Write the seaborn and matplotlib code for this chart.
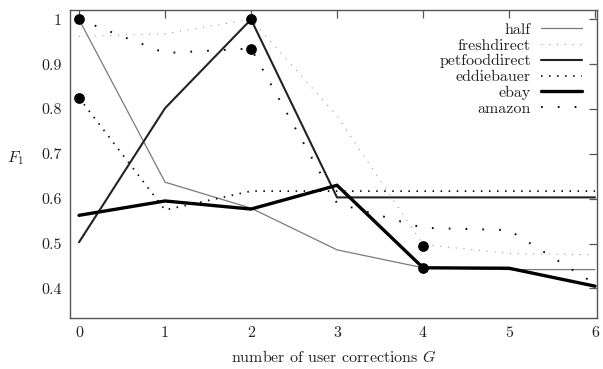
import matplotlib
matplotlib.use("Agg")
import matplotlib.pyplot as plt
import seaborn as sns
import pandas as pd

# ---- data ----
G = [0, 1, 2, 3, 4, 5, 6]
half = [1.0, 0.637, 0.579, 0.486, 0.446, 0.442, 0.442]
freshdirect = [0.962, 0.968, 1.0, 0.785, 0.498, 0.478, 0.475]
petfooddirect = [0.503, 0.802, 1.0, 0.603, 0.603, 0.603, 0.603]
eddiebauer = [0.825, 0.575, 0.617, 0.617, 0.617, 0.617, 0.617]
ebay = [0.563, 0.595, 0.577, 0.630, 0.446, 0.445, 0.405]
amazon = [1.0, 0.925, 0.935, 0.590, 0.535, 0.530, 0.410]

marker_x = [0, 0, 2, 2, 4, 4]
marker_y = [1.0, 0.825, 1.0, 0.935, 0.495, 0.446]

x_ticks = [0, 1, 2, 3, 4, 5, 6]
y_ticks = [0.4, 0.5, 0.6, 0.7, 0.8, 0.9, 1.0]
y_tick_labels = ["0.4", "0.5", "0.6", "0.7", "0.8", "0.9", "1"]

sns.set_style("white")
plt.rcParams["font.family"] = ["cmr10", "DejaVu Serif"]
plt.rcParams["mathtext.fontset"] = "cm"
plt.rcParams["axes.formatter.use_mathtext"] = True
plt.rcParams["lines.scale_dashes"] = False

FS = 11.5

fig = plt.figure(figsize=(6.03, 3.69), dpi=100)
ax = fig.add_axes([70 / 603, 1 - 318 / 369, 527 / 603, 308 / 369])

series = [
    ("half", half, dict(color="#7a7a7a", linewidth=0.9, linestyle="-")),
    ("freshdirect", freshdirect, dict(color="#9a9a9a", linewidth=0.8, linestyle=(0, (0.8, 4.8)))),
    ("petfooddirect", petfooddirect, dict(color="#222222", linewidth=1.5, linestyle="-")),
    ("eddiebauer", eddiebauer, dict(color="#111111", linewidth=1.3, linestyle=(0, (1.1, 4.7)))),
    ("ebay", ebay, dict(color="#000000", linewidth=2.4, linestyle="-")),
    ("amazon", amazon, dict(color="#111111", linewidth=1.4, linestyle=(0, (1.3, 10.8)))),
]

for name, vals, style in series:
    df = pd.DataFrame({"G": G, "F1": vals})
    sns.lineplot(data=df, x="G", y="F1", ax=ax, label=name,
                 dash_capstyle="butt", solid_joinstyle="miter", **style)

mdf = pd.DataFrame({"G": marker_x, "F1": marker_y})
sns.scatterplot(data=mdf, x="G", y="F1", ax=ax, color="black", s=60,
                edgecolor="black", linewidth=0, zorder=5, legend=False)

ax.set_xlim(-0.105, 6.023)
ax.set_ylim(0.334, 1.021)
ax.set_xticks(x_ticks)
ax.set_xticklabels([str(v) for v in x_ticks])
ax.set_yticks(y_ticks)
ax.set_yticklabels(y_tick_labels)

for sp in ax.spines.values():
    sp.set_color("#555555")
    sp.set_linewidth(1.0)
    sp.set_visible(True)

ax.tick_params(axis="both", which="major", direction="in", length=6, width=0.9,
               color="#555555", labelsize=FS, top=True, right=True,
               labelcolor="#222222", pad=6)

ax.set_xlabel("number of user corrections $G$", fontsize=FS, color="#222222")
ax.xaxis.set_label_coords(0.5, -0.1)
ax.set_ylabel("$F_1$", fontsize=FS, rotation=0, color="#222222")
ax.yaxis.set_label_coords(-0.103, 0.49)

leg = ax.legend(loc="upper right", bbox_to_anchor=(0.99, 0.99), frameon=False,
                markerfirst=False, fontsize=FS, handlelength=2.6,
                handletextpad=0.6, labelspacing=0.1, borderaxespad=0.2)
for t in leg.get_texts():
    t.set_color("#222222")

fig.savefig("out.png", dpi=100)
